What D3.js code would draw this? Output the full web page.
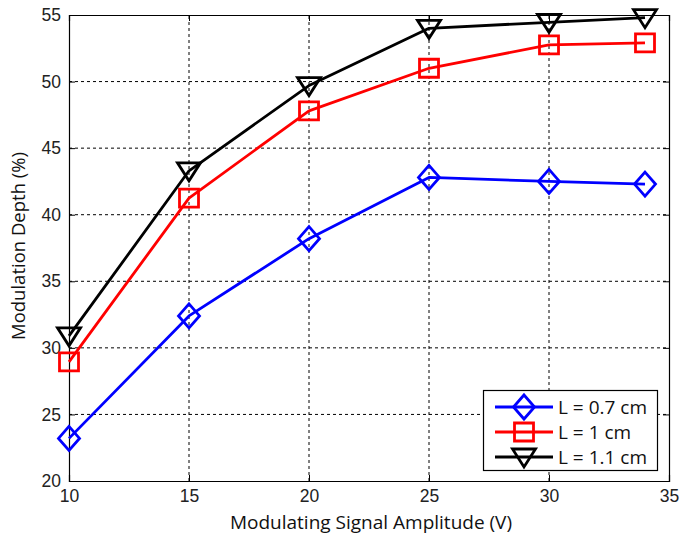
<!DOCTYPE html>
<html><head><meta charset="utf-8">
<script src="https://cdn.jsdelivr.net/npm/d3@7"></script>
<style>body{margin:0;background:#fff}svg{display:block}</style>
</head><body>
<script>
const xValues = [10, 15, 20, 25, 30, 34];
const seriesNames = ["L = 0.7 cm", "L = 1 cm", "L = 1.1 cm"];
const seriesColors = ["#0000ff", "#ff0000", "#000000"];
const seriesMarkers = ["diamond", "square", "triangle"];
const values07 = [23.2, 32.4, 38.2, 42.8, 42.5, 42.3];
const values10 = [28.95, 41.25, 47.8, 51.0, 52.75, 52.9];
const values11 = [30.9, 43.3, 49.7, 54.0, 54.45, 54.8];
const xTicks = [10, 15, 20, 25, 30, 35];
const yTicks = [20, 25, 30, 35, 40, 45, 50, 55];

const W = 680, H = 537;
const m = {l: 69, r: 11, t: 15, b: 56};
const svg = d3.select("body").append("svg").attr("width", W).attr("height", H);
const x = d3.scaleLinear().domain([10, 35]).range([m.l, W - m.r]);
const y = d3.scaleLinear().domain([20, 55]).range([H - m.b, m.t]);

const tickFont = "Liberation Sans, Arial, sans-serif";
const labelFont = "Open Sans, Noto Sans, sans-serif";

// grid
const g = svg.append("g");
g.selectAll(".vg").data(xTicks.slice(1, -1)).join("line")
  .attr("x1", d => x(d)).attr("x2", d => x(d)).attr("y1", y(20)).attr("y2", y(55))
  .attr("stroke", "#000").attr("stroke-width", 1).attr("stroke-dasharray", "3,3");
g.selectAll(".hg").data(yTicks.slice(1, -1)).join("line")
  .attr("x1", x(10)).attr("x2", x(35)).attr("y1", d => y(d)).attr("y2", d => y(d))
  .attr("stroke", "#000").attr("stroke-width", 1).attr("stroke-dasharray", "3,3");

// axes
svg.append("g").attr("transform", `translate(0,${y(20)})`)
  .call(d3.axisBottom(x).tickValues(xTicks).tickSize(-6).tickPadding(9));
svg.append("g").attr("transform", `translate(${x(10)},0)`)
  .call(d3.axisLeft(y).tickValues(yTicks).tickSize(-6).tickPadding(8));
svg.append("g").attr("transform", `translate(0,${y(55)})`)
  .call(d3.axisTop(x).tickValues(xTicks).tickSize(-6).tickFormat(""));
svg.append("g").attr("transform", `translate(${x(35)},0)`)
  .call(d3.axisRight(y).tickValues(yTicks).tickSize(-6).tickFormat(""));
svg.selectAll(".domain").attr("stroke", "#000").attr("stroke-width", 1.2);
svg.selectAll(".tick line").attr("stroke", "#000");
svg.selectAll(".tick text").attr("font-family", tickFont).attr("font-size", 17.5).attr("fill", "#222");

// labels
svg.append("text").attr("x", 371).attr("y", 529).attr("text-anchor", "middle")
  .attr("font-family", labelFont).attr("font-size", 19).attr("fill", "#111")
  .text("Modulating Signal Amplitude (V)");
svg.append("text").attr("transform", `translate(25,246) rotate(-90)`).attr("text-anchor", "middle")
  .attr("font-family", labelFont).attr("font-size", 18.5).attr("fill", "#111")
  .text("Modulation Depth (%)");

function markerPath(type) {
  if (type === "diamond") return "M0,-12 L10.5,0 L0,12 L-10.5,0 Z";
  if (type === "square") return "M-9.5,-9 L9.5,-9 L9.5,9 L-9.5,9 Z";
  return "M-11.5,-8 L11.5,-8 L0,10 Z";
}

const allSeries = [values07, values10, values11];
const line = d3.line().x((d, i) => x(xValues[i])).y(d => y(d));
allSeries.forEach((vals, si) => {
  const sg = svg.append("g");
  sg.append("path").attr("d", line(vals)).attr("fill", "none")
    .attr("stroke", seriesColors[si]).attr("stroke-width", 2.8).attr("stroke-linejoin", "round");
  sg.selectAll("path.mk").data(vals).join("path").attr("class", "mk")
    .attr("transform", (d, i) => `translate(${x(xValues[i])},${y(d)})`)
    .attr("d", markerPath(seriesMarkers[si])).attr("fill", "none")
    .attr("stroke", seriesColors[si]).attr("stroke-width", 2.8);
});

// legend
const lg = svg.append("g");
lg.append("rect").attr("x", 483.5).attr("y", 390.5).attr("width", 174).attr("height", 80)
  .attr("fill", "#fff").attr("stroke", "#000").attr("stroke-width", 1.2);
seriesNames.forEach((name, i) => {
  const cy = 407 + i * 25;
  lg.append("line").attr("x1", 495).attr("x2", 553).attr("y1", cy).attr("y2", cy)
    .attr("stroke", seriesColors[i]).attr("stroke-width", 2.8);
  lg.append("path").attr("transform", `translate(524,${cy})`).attr("d", markerPath(seriesMarkers[i]))
    .attr("fill", "none").attr("stroke", seriesColors[i]).attr("stroke-width", 2.8);
  lg.append("text").attr("x", 558).attr("y", cy).attr("dy", "0.36em")
    .attr("font-family", labelFont).attr("font-size", 19).attr("fill", "#111").text(name);
});
</script>
</body></html>
